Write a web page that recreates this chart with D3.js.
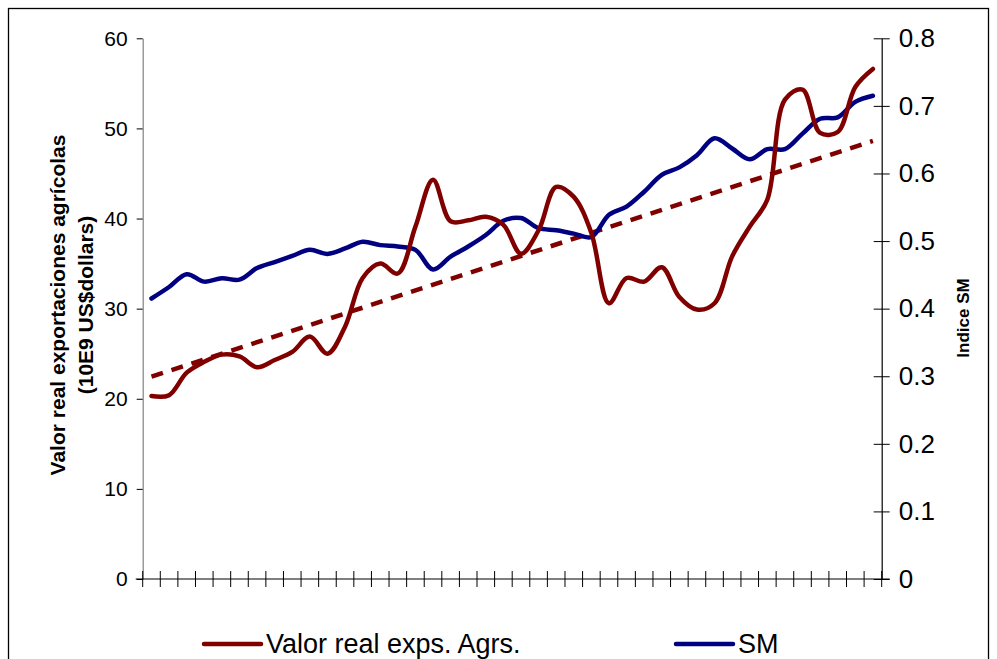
<!DOCTYPE html>
<html>
<head>
<meta charset="utf-8">
<script src="https://cdn.jsdelivr.net/npm/d3@7/dist/d3.min.js"></script>
<style>
  html, body { margin: 0; padding: 0; background: #fff; }
  svg { display: block; }
  text { font-family: "Liberation Sans", Arial, sans-serif; }
</style>
</head>
<body>
<svg id="chart" width="997" height="659"></svg>
<script>
// ---- data ----
const categories = d3.range(1, 43); // 42 periods (no labels shown)
const valorReal = [20.3, 20.4, 22.9, 24.1, 24.9, 24.7, 23.5, 24.3, 25.2, 26.9,
  25.0, 28.0, 33.4, 35.0, 33.9, 39.1, 44.3, 39.7, 39.8, 40.2,
  39.3, 36.1, 38.7, 43.5, 42.4, 38.4, 30.6, 33.4, 33.0, 34.6,
  31.3, 29.9, 30.6, 35.8, 39.1, 42.1, 53.2, 54.3, 49.5, 49.6,
  54.6, 56.6];
const smIndex = [0.415, 0.432, 0.451, 0.440, 0.445, 0.443, 0.460, 0.469, 0.478, 0.487,
  0.481, 0.489, 0.499, 0.494, 0.492, 0.487, 0.458, 0.477, 0.492, 0.509,
  0.530, 0.534, 0.519, 0.516, 0.511, 0.506, 0.539, 0.551, 0.573, 0.598,
  0.609, 0.627, 0.652, 0.637, 0.621, 0.636, 0.636, 0.659, 0.681, 0.683,
  0.706, 0.715];
const leftTicks = [0, 10, 20, 30, 40, 50, 60];
const rightTicks = [0, 0.1, 0.2, 0.3, 0.4, 0.5, 0.6, 0.7, 0.8];
const leftTitle = ["Valor real exportaciones agrícolas", "(10E9 US$dollars)"];
const rightTitle = "Indice SM";
const legendLabels = ["Valor real exps. Agrs.", "SM"];

// ---- layout ----
const L = 142.7, R = 881.7, T = 38.3, B = 579;
const RED = "#800000", BLUE = "#000080";

const svg = d3.select("#chart");

// outer border
svg.append("rect").attr("x", 8.5).attr("y", 8.5).attr("width", 980).attr("height", 700)
  .attr("fill", "none").attr("stroke", "#000").attr("stroke-width", 1.3);

const x = d3.scaleBand().domain(categories).range([L, R]).padding(0);
const xc = d => x(d) + x.bandwidth() / 2;
const yL = d3.scaleLinear().domain([0, 60]).range([B, T]);
const yR = d3.scaleLinear().domain([0, 0.8]).range([B, T]);

// left axis
const gL = svg.append("g").attr("transform", `translate(${L},0)`)
  .call(d3.axisLeft(yL).tickValues(leftTicks).tickSize(6).tickSizeOuter(0).tickPadding(9));
gL.select(".domain").attr("stroke", "#808080").attr("stroke-width", 1.2);
gL.selectAll(".tick line").attr("stroke", "#000");
gL.selectAll(".tick text").attr("font-size", 21).attr("fill", "#000");

// right axis (cross ticks)
const gR = svg.append("g").attr("transform", `translate(${R},0)`)
  .call(d3.axisRight(yR).tickValues(rightTicks).tickSize(8).tickSizeOuter(0).tickPadding(9)
    .tickFormat(d => d === 0 ? "0" : d3.format(".1f")(d)));
gR.select(".domain").attr("stroke", "#000").attr("stroke-width", 1.2);
gR.selectAll(".tick line").attr("x1", -8).attr("stroke", "#000");
gR.selectAll(".tick text").attr("font-size", 26).attr("fill", "#000");

// bottom axis: category boundaries, cross ticks
const edges = categories.map(c => x(c)).concat([R]);
svg.append("line").attr("x1", L - 7).attr("x2", R + 8).attr("y1", B).attr("y2", B)
  .attr("stroke", "#000").attr("stroke-width", 1.2);
svg.append("g").selectAll("line").data(edges).join("line")
  .attr("x1", d => d).attr("x2", d => d).attr("y1", B - 8).attr("y2", B + 8)
  .attr("stroke", "#000").attr("stroke-width", 1);

// axis titles
const lt = svg.append("text").attr("transform", `rotate(-90)`)
  .attr("text-anchor", "middle").attr("font-weight", "bold").attr("font-size", 21);
lt.append("tspan").attr("x", -305).attr("y", 65).text(leftTitle[0]);
lt.append("tspan").attr("x", -305).attr("y", 93).text(leftTitle[1]);
svg.append("text").attr("transform", `translate(969,318) rotate(-90)`)
  .attr("text-anchor", "middle").attr("font-weight", "bold").attr("font-size", 17)
  .text(rightTitle);

// trend line (least squares of valor real)
const n = valorReal.length;
const idx = d3.range(n);
const mx = d3.mean(idx), my = d3.mean(valorReal);
const slope = d3.sum(idx, i => (i - mx) * (valorReal[i] - my)) / d3.sum(idx, i => (i - mx) ** 2);
const icpt = my - slope * mx;
svg.append("line")
  .attr("x1", xc(categories[0])).attr("y1", yL(icpt))
  .attr("x2", xc(categories[n - 1])).attr("y2", yL(icpt + slope * (n - 1)))
  .attr("stroke", RED).attr("stroke-width", 4.5).attr("stroke-dasharray", "12,9");

// series lines
const lineL = d3.line().x((d, i) => xc(categories[i])).y(d => yL(d)).curve(d3.curveCatmullRom.alpha(0.5));
const lineR = d3.line().x((d, i) => xc(categories[i])).y(d => yR(d)).curve(d3.curveCatmullRom.alpha(0.5));
svg.append("path").datum(smIndex).attr("d", lineR).attr("fill", "none")
  .attr("stroke", BLUE).attr("stroke-width", 4.5).attr("stroke-linejoin", "round").attr("stroke-linecap", "round");
svg.append("path").datum(valorReal).attr("d", lineL).attr("fill", "none")
  .attr("stroke", RED).attr("stroke-width", 4.5).attr("stroke-linejoin", "round").attr("stroke-linecap", "round");

// legend
const legend = [{c: RED, x: 204, label: legendLabels[0]}, {c: BLUE, x: 676, label: legendLabels[1]}];
const lg = svg.append("g").selectAll("g").data(legend).join("g");
lg.append("line").attr("x1", d => d.x).attr("x2", d => d.x + 57).attr("y1", 644).attr("y2", 644)
  .attr("stroke", d => d.c).attr("stroke-width", 4.5).attr("stroke-linecap", "round");
lg.append("text").attr("x", d => d.x + 62).attr("y", 653).attr("font-size", 27).attr("fill", "#000")
  .text(d => d.label);
</script>
</body>
</html>
